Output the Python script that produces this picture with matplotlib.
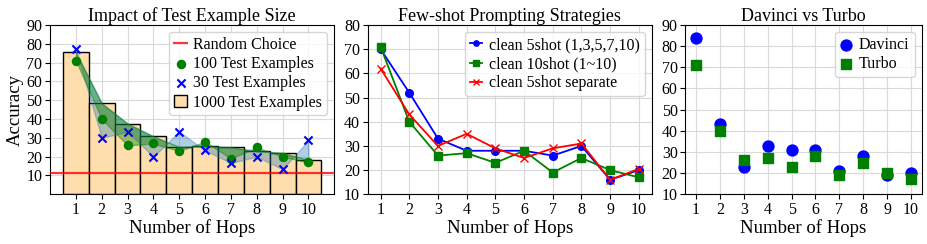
import numpy as np
import matplotlib
matplotlib.use('Agg')
import matplotlib.pyplot as plt

plt.rcParams['font.family'] = ['Liberation Serif', 'DejaVu Serif']

hops = np.arange(1, 11)

# panel 1: impact of test example size
acc_1000 = [75.5, 48.4, 37.6, 30.8, 25.1, 25.6, 25.0, 23.0, 21.9, 18.2]
acc_100 = [71, 40, 26, 27, 23, 28, 19, 25, 20, 17]
acc_30 = [77, 30, 33.3, 20, 33.3, 23.3, 16.7, 20, 13.3, 28.7]
random_choice = 11.1

# panel 2: few-shot prompting strategies
shot5 = [70, 52, 33, 28, 28, 28, 26, 30, 16, 20]
shot10 = [71, 40, 26, 27, 23, 28, 19, 25, 20, 17]
shot5_sep = [62, 43, 30, 35, 29, 25, 29, 31, 16, 20.5]

# panel 3: davinci vs turbo
davinci = [84, 43, 23, 33, 31, 31, 21, 28, 19, 20]
turbo = [71, 40, 26, 27, 23, 28, 19, 25, 20, 17]

fig = plt.figure(figsize=(9.28, 2.44), dpi=100)
bottom, height = 0.2037, 0.694
ax1 = fig.add_axes([0.0539, bottom, 0.3063, height])
ax2 = fig.add_axes([0.3962, bottom, 0.3061, height])
ax3 = fig.add_axes([0.7385, bottom, 0.2547, height])

fs_title = 13
fs_label = 13.5
fs_tick = 11.5
fs_leg = 11.5
leg_kw = dict(fontsize=fs_leg, handlelength=0.8, handletextpad=0.4,
              borderpad=0.3, labelspacing=0.2, borderaxespad=0.45)

for ax in (ax1, ax2, ax3):
    ax.grid(True, color='#d9d9d9', linewidth=0.8)
    ax.set_axisbelow(True)
    ax.tick_params(labelsize=fs_tick, pad=2)
    ax.set_xticks(hops)
    ax.set_xlabel('Number of Hops', fontsize=fs_label, labelpad=1)

# panel 1
ax1.bar(hops, acc_1000, width=1.0, color='navajowhite', edgecolor='black',
        linewidth=1.0, label='1000 Test Examples', zorder=2)
ax1.axhline(random_choice, color='red', linewidth=1.6, alpha=0.8,
            label='Random Choice', zorder=3)
ax1.fill_between(hops, acc_1000, acc_30, color='tab:blue', alpha=0.35, zorder=3)
ax1.fill_between(hops, acc_1000, acc_100, color='green', alpha=0.4, zorder=3)
ax1.scatter(hops, acc_100, color='green', s=34, label='100 Test Examples', zorder=4)
ax1.scatter(hops, acc_30, color='blue', marker='x', s=34, label='30 Test Examples', zorder=4)
ax1.set_xlim(0, 11)
ax1.set_ylim(0, 90)
ax1.set_yticks(range(10, 91, 10))
ax1.set_ylabel('Accuracy', fontsize=fs_label, labelpad=2)
ax1.set_title('Impact of Test Example Size', fontsize=fs_title, pad=3)
h, l = ax1.get_legend_handles_labels()
order = [l.index(x) for x in ['Random Choice', '100 Test Examples',
                              '30 Test Examples', '1000 Test Examples']]
ax1.legend([h[i] for i in order], [l[i] for i in order], loc='upper right', **leg_kw)

# panel 2
ax2.plot(hops, shot5, color='blue', marker='o', markersize=5.5, linewidth=1.3,
         label='clean 5shot (1,3,5,7,10)')
ax2.plot(hops, shot10, color='green', marker='s', markersize=5.5, linewidth=1.3,
         label='clean 10shot (1~10)')
ax2.plot(hops, shot5_sep, color='red', marker='x', markersize=5.5, linewidth=1.3,
         label='clean 5shot separate')
ax2.set_ylim(10, 80)
ax2.set_yticks(range(10, 81, 10))
ax2.set_title('Few-shot Prompting Strategies', fontsize=fs_title, pad=3)
ax2.legend(loc='upper right', markerscale=0.7, **leg_kw)

# panel 3
ax3.scatter(hops, davinci, color='blue', marker='o', s=62, label='Davinci')
ax3.scatter(hops, turbo, color='green', marker='s', s=62, label='Turbo')
ax3.set_ylim(10, 90)
ax3.set_yticks(range(10, 91, 10))
ax3.set_title('Davinci vs Turbo', fontsize=fs_title, pad=3)
ax3.legend(loc='upper right', **leg_kw)

fig.savefig('out.png', dpi=100)
plt.close(fig)
